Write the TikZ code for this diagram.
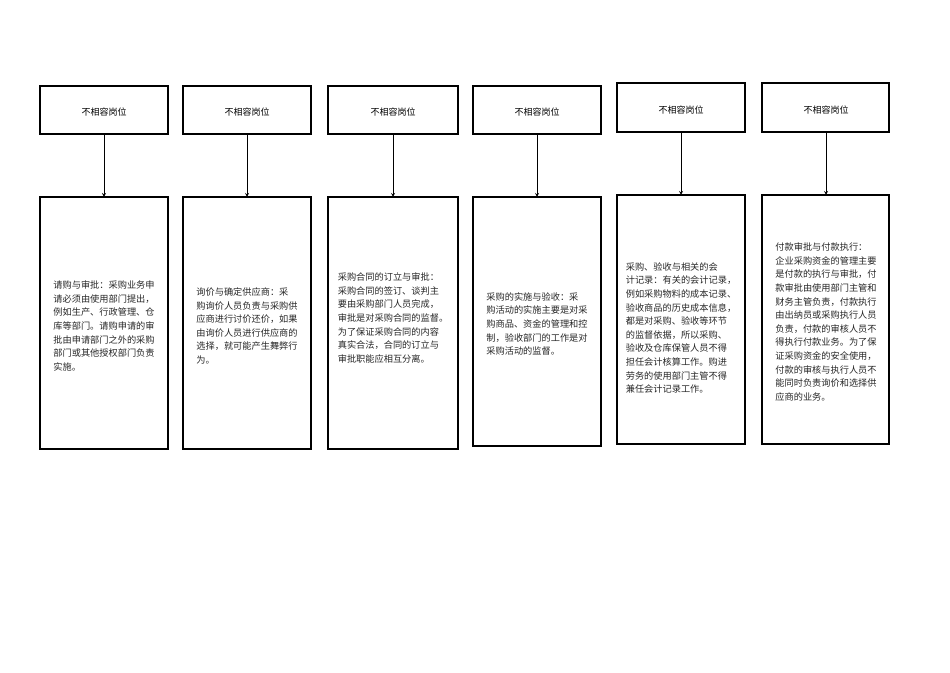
\documentclass[tikz,border=0pt]{standalone}
\usepackage{fontspec}
\setmainfont{Noto Sans CJK SC}
\begin{document}
\begin{tikzpicture}[x=1pt,y=-1pt,
  box/.style={draw,line width=1.3pt},
  txt/.style={align=left,anchor=center,font=\fontsize{9.2pt}{13.6pt}\selectfont,inner sep=0pt,text=black!85},
  arr/.style={-stealth,line width=0.8pt}]
\useasboundingbox (0,0) rectangle (950,672);
\def\col#1#2#3#4#5#6#7#8{%
  \draw[box] (#1,#3) rectangle (#2,#4);
  \node[font=\fontsize{9.2pt}{11pt}\selectfont] (t#8) at ({(#1+#2)/2},{(#3+#4)/2}) {不相容岗位};
  \draw[box] (#1,#5) rectangle (#2,#6);
  \coordinate (a#8) at ({(#1+#2)/2},#4);
  \coordinate (b#8) at ({(#1+#2)/2},#5);
  \draw[arr] (a#8) -- (b#8);
  \node[txt] at ({(#1+#2)/2},{(#5+#6)/2-#7}) {\begin{varwidth}{200pt}x\end{varwidth}};}
\newcommand\cl[7]{%
  \draw[box] (#1,#3) rectangle (#2,#4);
  \node[font=\fontsize{9.2pt}{11pt}\selectfont] at ({(#1+#2)/2},{(#3+#4)/2}) {不相容岗位};
  \draw[box] (#1,#5) rectangle (#2,#6);
  \coordinate (a) at ({(#1+#2)/2},#4);
  \coordinate (b) at ({(#1+#2)/2},#5);
  \draw[arr] (a) -- (b);
  \node[txt] at ({(#1+#2)/2},#7) {\strut};}
% column 1
\draw[box] (40,86) rectangle (168,134); \node[font=\small] (h1) at (104,112) {不相容岗位};
\draw[box] (40,197) rectangle (168,449); \coordinate (b1) at (104,197);
\draw[arr] (104,134) -- (b1);
\node[txt] (d1) at (104,326) {请购与审批：采购业务申\\请必须由使用部门提出，\\例如生产、行政管理、仓\\库等部门。请购申请的审\\批由申请部门之外的采购\\部门或其他授权部门负责\\实施。};
% column 2
\draw[box] (183,86) rectangle (311,134); \node[font=\small] (h2) at (247,112) {不相容岗位};
\draw[box] (183,197) rectangle (311,449); \coordinate (b2) at (247,197);
\draw[arr] (247,134) -- (b2);
\node[txt] (d2) at (247,326) {询价与确定供应商：采\\购询价人员负责与采购供\\应商进行讨价还价，如果\\由询价人员进行供应商的\\选择，就可能产生舞弊行\\为。};
% column 3
\draw[box] (328,86) rectangle (458,134); \node[font=\small] (h3) at (393,112) {不相容岗位};
\draw[box] (328,197) rectangle (458,449); \coordinate (b3) at (393,197);
\draw[arr] (393,134) -- (b3);
\node[txt] (d3) at (393,318) {采购合同的订立与审批：\\采购合同的签订、谈判主\\要由采购部门人员完成，\\审批是对采购合同的监督。\\为了保证采购合同的内容\\真实合法，合同的订立与\\审批职能应相互分离。};
% column 4
\draw[box] (473,86) rectangle (601,134); \node[font=\small] (h4) at (537,112) {不相容岗位};
\draw[box] (473,197) rectangle (601,446); \coordinate (b4) at (537,197);
\draw[arr] (537,134) -- (b4);
\node[txt] (d4) at (537,324) {采购的实施与验收：采\\购活动的实施主要是对采\\购商品、资金的管理和控\\制，验收部门的工作是对\\采购活动的监督。};
% column 5
\draw[box] (617,83) rectangle (745,132); \node[font=\small] (h5) at (681,110) {不相容岗位};
\draw[box] (617,195) rectangle (745,444); \coordinate (b5) at (681,195);
\draw[arr] (681,132) -- (b5);
\node[txt] (d5) at (681,328) {采购、验收与相关的会\\计记录：有关的会计记录，\\例如采购物料的成本记录、\\验收商品的历史成本信息，\\都是对采购、验收等环节\\的监督依据，所以采购、\\验收及仓库保管人员不得\\担任会计核算工作。购进\\劳务的使用部门主管不得\\兼任会计记录工作。};
% column 6
\draw[box] (762,83) rectangle (889,132); \node[font=\small] (h6) at (826,110) {不相容岗位};
\draw[box] (762,195) rectangle (889,444); \coordinate (b6) at (826,195);
\draw[arr] (826,132) -- (b6);
\node[txt] (d6) at (826,322) {付款审批与付款执行：\\企业采购资金的管理主要\\是付款的执行与审批，付\\款审批由使用部门主管和\\财务主管负责，付款执行\\由出纳员或采购执行人员\\负责，付款的审核人员不\\得执行付款业务。为了保\\证采购资金的安全使用，\\付款的审核与执行人员不\\能同时负责询价和选择供\\应商的业务。};
\end{tikzpicture}
\end{document}
